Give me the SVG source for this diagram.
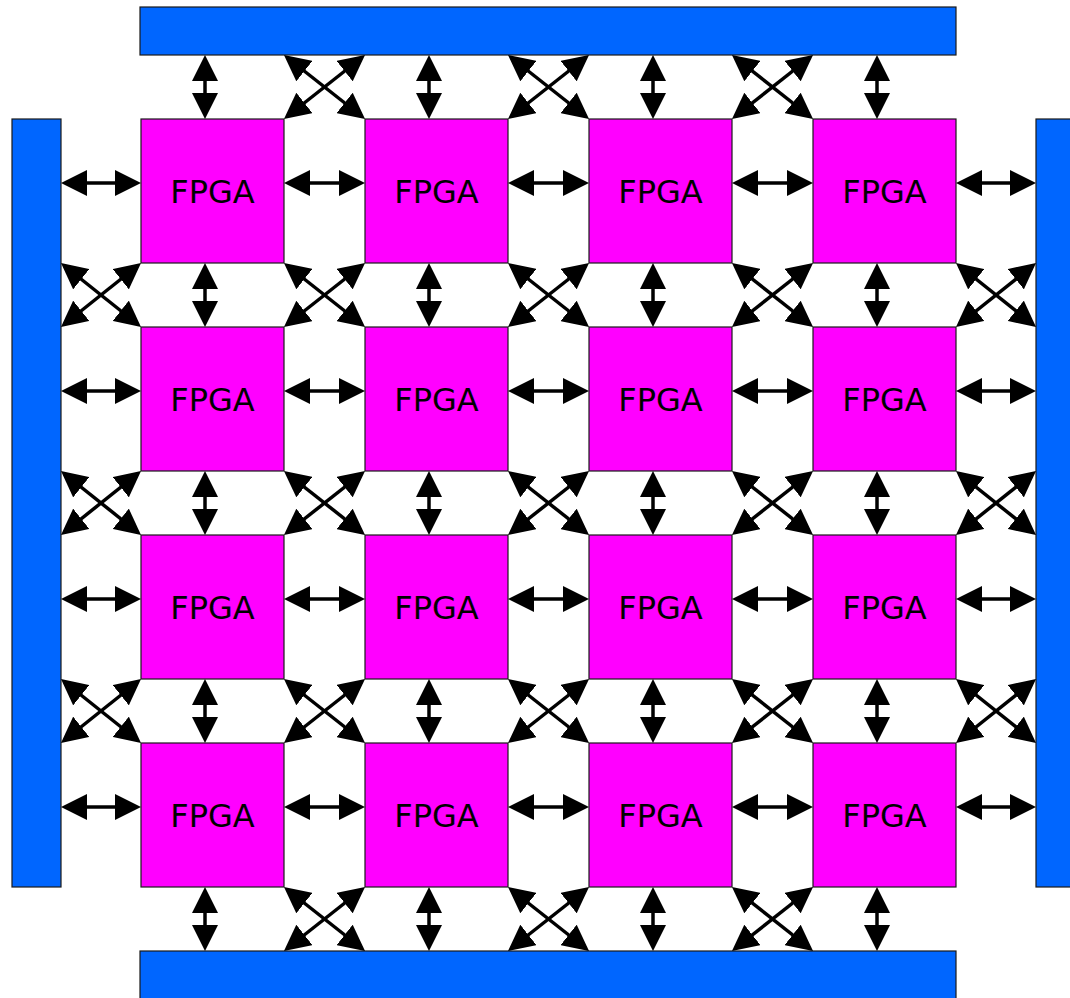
<svg xmlns="http://www.w3.org/2000/svg" width="1070" height="998" viewBox="0 0 1070 998">
<style>
.bar{fill:#0066ff;stroke:#1a1a1a;stroke-width:1.2}
.fpga{fill:#ff00ff;stroke:#1a1a1a;stroke-width:1.2}
.lbl{font-family:"DejaVu Sans",sans-serif;font-size:32px;fill:#000;text-anchor:middle}
.c line{stroke:#000;stroke-width:3.5;marker-start:url(#ah);marker-end:url(#ah)}
</style>
<defs>
<marker id="ah" viewBox="0 0 26 26" refX="22" refY="13" markerWidth="26" markerHeight="26" markerUnits="userSpaceOnUse" orient="auto-start-reverse">
<path d="M0,0 L26,13 L0,26 z" fill="#000"/>
</marker>
</defs>
<rect width="1070" height="998" fill="#fff"/>
<g id="bar-top"><rect class="bar" x="140" y="7" width="816" height="48"/></g>
<g id="bar-left"><rect class="bar" x="12" y="119" width="49" height="768"/></g>
<g id="bar-right"><rect class="bar" x="1036" y="119" width="50" height="768"/></g>
<g id="bar-bottom"><rect class="bar" x="140" y="951" width="816" height="60"/></g>

<g id="fpga-1-1"><rect class="fpga" x="141" y="119" width="143" height="144"/><text class="lbl" x="212.5" y="203">FPGA</text></g>
<g id="fpga-1-2"><rect class="fpga" x="365" y="119" width="143" height="144"/><text class="lbl" x="436.5" y="203">FPGA</text></g>
<g id="fpga-1-3"><rect class="fpga" x="589" y="119" width="143" height="144"/><text class="lbl" x="660.5" y="203">FPGA</text></g>
<g id="fpga-1-4"><rect class="fpga" x="813" y="119" width="143" height="144"/><text class="lbl" x="884.5" y="203">FPGA</text></g>
<g id="fpga-2-1"><rect class="fpga" x="141" y="327" width="143" height="144"/><text class="lbl" x="212.5" y="411">FPGA</text></g>
<g id="fpga-2-2"><rect class="fpga" x="365" y="327" width="143" height="144"/><text class="lbl" x="436.5" y="411">FPGA</text></g>
<g id="fpga-2-3"><rect class="fpga" x="589" y="327" width="143" height="144"/><text class="lbl" x="660.5" y="411">FPGA</text></g>
<g id="fpga-2-4"><rect class="fpga" x="813" y="327" width="143" height="144"/><text class="lbl" x="884.5" y="411">FPGA</text></g>
<g id="fpga-3-1"><rect class="fpga" x="141" y="535" width="143" height="144"/><text class="lbl" x="212.5" y="619">FPGA</text></g>
<g id="fpga-3-2"><rect class="fpga" x="365" y="535" width="143" height="144"/><text class="lbl" x="436.5" y="619">FPGA</text></g>
<g id="fpga-3-3"><rect class="fpga" x="589" y="535" width="143" height="144"/><text class="lbl" x="660.5" y="619">FPGA</text></g>
<g id="fpga-3-4"><rect class="fpga" x="813" y="535" width="143" height="144"/><text class="lbl" x="884.5" y="619">FPGA</text></g>
<g id="fpga-4-1"><rect class="fpga" x="141" y="743" width="143" height="144"/><text class="lbl" x="212.5" y="827">FPGA</text></g>
<g id="fpga-4-2"><rect class="fpga" x="365" y="743" width="143" height="144"/><text class="lbl" x="436.5" y="827">FPGA</text></g>
<g id="fpga-4-3"><rect class="fpga" x="589" y="743" width="143" height="144"/><text class="lbl" x="660.5" y="827">FPGA</text></g>
<g id="fpga-4-4"><rect class="fpga" x="813" y="743" width="143" height="144"/><text class="lbl" x="884.5" y="827">FPGA</text></g>

<g id="connectors" class="c">
<!-- horizontal -->
<line x1="65" y1="183" x2="137" y2="183"/><line x1="288" y1="183" x2="361" y2="183"/><line x1="512" y1="183" x2="585" y2="183"/><line x1="736" y1="183" x2="809" y2="183"/><line x1="960" y1="183" x2="1032" y2="183"/>
<line x1="65" y1="391" x2="137" y2="391"/><line x1="288" y1="391" x2="361" y2="391"/><line x1="512" y1="391" x2="585" y2="391"/><line x1="736" y1="391" x2="809" y2="391"/><line x1="960" y1="391" x2="1032" y2="391"/>
<line x1="65" y1="599" x2="137" y2="599"/><line x1="288" y1="599" x2="361" y2="599"/><line x1="512" y1="599" x2="585" y2="599"/><line x1="736" y1="599" x2="809" y2="599"/><line x1="960" y1="599" x2="1032" y2="599"/>
<line x1="65" y1="807" x2="137" y2="807"/><line x1="288" y1="807" x2="361" y2="807"/><line x1="512" y1="807" x2="585" y2="807"/><line x1="736" y1="807" x2="809" y2="807"/><line x1="960" y1="807" x2="1032" y2="807"/>
<!-- vertical -->
<line x1="205" y1="59" x2="205" y2="115"/><line x1="429" y1="59" x2="429" y2="115"/><line x1="653" y1="59" x2="653" y2="115"/><line x1="877" y1="59" x2="877" y2="115"/>
<line x1="205" y1="267" x2="205" y2="323"/><line x1="429" y1="267" x2="429" y2="323"/><line x1="653" y1="267" x2="653" y2="323"/><line x1="877" y1="267" x2="877" y2="323"/>
<line x1="205" y1="475" x2="205" y2="531"/><line x1="429" y1="475" x2="429" y2="531"/><line x1="653" y1="475" x2="653" y2="531"/><line x1="877" y1="475" x2="877" y2="531"/>
<line x1="205" y1="683" x2="205" y2="739"/><line x1="429" y1="683" x2="429" y2="739"/><line x1="653" y1="683" x2="653" y2="739"/><line x1="877" y1="683" x2="877" y2="739"/>
<line x1="205" y1="891" x2="205" y2="947"/><line x1="429" y1="891" x2="429" y2="947"/><line x1="653" y1="891" x2="653" y2="947"/><line x1="877" y1="891" x2="877" y2="947"/>
<!-- diagonals top gap -->
<line x1="287.1" y1="57.5" x2="361.9" y2="116.5"/><line x1="361.9" y1="57.5" x2="287.1" y2="116.5"/>
<line x1="511.1" y1="57.5" x2="585.9" y2="116.5"/><line x1="585.9" y1="57.5" x2="511.1" y2="116.5"/>
<line x1="735.1" y1="57.5" x2="809.9" y2="116.5"/><line x1="809.9" y1="57.5" x2="735.1" y2="116.5"/>
<!-- diagonals row gap 1 -->
<line x1="64.1" y1="265.5" x2="137.9" y2="324.5"/><line x1="137.9" y1="265.5" x2="64.1" y2="324.5"/>
<line x1="287.1" y1="265.5" x2="361.9" y2="324.5"/><line x1="361.9" y1="265.5" x2="287.1" y2="324.5"/>
<line x1="511.1" y1="265.5" x2="585.9" y2="324.5"/><line x1="585.9" y1="265.5" x2="511.1" y2="324.5"/>
<line x1="735.1" y1="265.5" x2="809.9" y2="324.5"/><line x1="809.9" y1="265.5" x2="735.1" y2="324.5"/>
<line x1="959.1" y1="265.5" x2="1032.9" y2="324.5"/><line x1="1032.9" y1="265.5" x2="959.1" y2="324.5"/>
<!-- diagonals row gap 2 -->
<line x1="64.1" y1="473.5" x2="137.9" y2="532.5"/><line x1="137.9" y1="473.5" x2="64.1" y2="532.5"/>
<line x1="287.1" y1="473.5" x2="361.9" y2="532.5"/><line x1="361.9" y1="473.5" x2="287.1" y2="532.5"/>
<line x1="511.1" y1="473.5" x2="585.9" y2="532.5"/><line x1="585.9" y1="473.5" x2="511.1" y2="532.5"/>
<line x1="735.1" y1="473.5" x2="809.9" y2="532.5"/><line x1="809.9" y1="473.5" x2="735.1" y2="532.5"/>
<line x1="959.1" y1="473.5" x2="1032.9" y2="532.5"/><line x1="1032.9" y1="473.5" x2="959.1" y2="532.5"/>
<!-- diagonals row gap 3 -->
<line x1="64.1" y1="681.5" x2="137.9" y2="740.5"/><line x1="137.9" y1="681.5" x2="64.1" y2="740.5"/>
<line x1="287.1" y1="681.5" x2="361.9" y2="740.5"/><line x1="361.9" y1="681.5" x2="287.1" y2="740.5"/>
<line x1="511.1" y1="681.5" x2="585.9" y2="740.5"/><line x1="585.9" y1="681.5" x2="511.1" y2="740.5"/>
<line x1="735.1" y1="681.5" x2="809.9" y2="740.5"/><line x1="809.9" y1="681.5" x2="735.1" y2="740.5"/>
<line x1="959.1" y1="681.5" x2="1032.9" y2="740.5"/><line x1="1032.9" y1="681.5" x2="959.1" y2="740.5"/>
<!-- diagonals bottom gap -->
<line x1="287.1" y1="889.5" x2="361.9" y2="948.5"/><line x1="361.9" y1="889.5" x2="287.1" y2="948.5"/>
<line x1="511.1" y1="889.5" x2="585.9" y2="948.5"/><line x1="585.9" y1="889.5" x2="511.1" y2="948.5"/>
<line x1="735.1" y1="889.5" x2="809.9" y2="948.5"/><line x1="809.9" y1="889.5" x2="735.1" y2="948.5"/>
</g>
</svg>
